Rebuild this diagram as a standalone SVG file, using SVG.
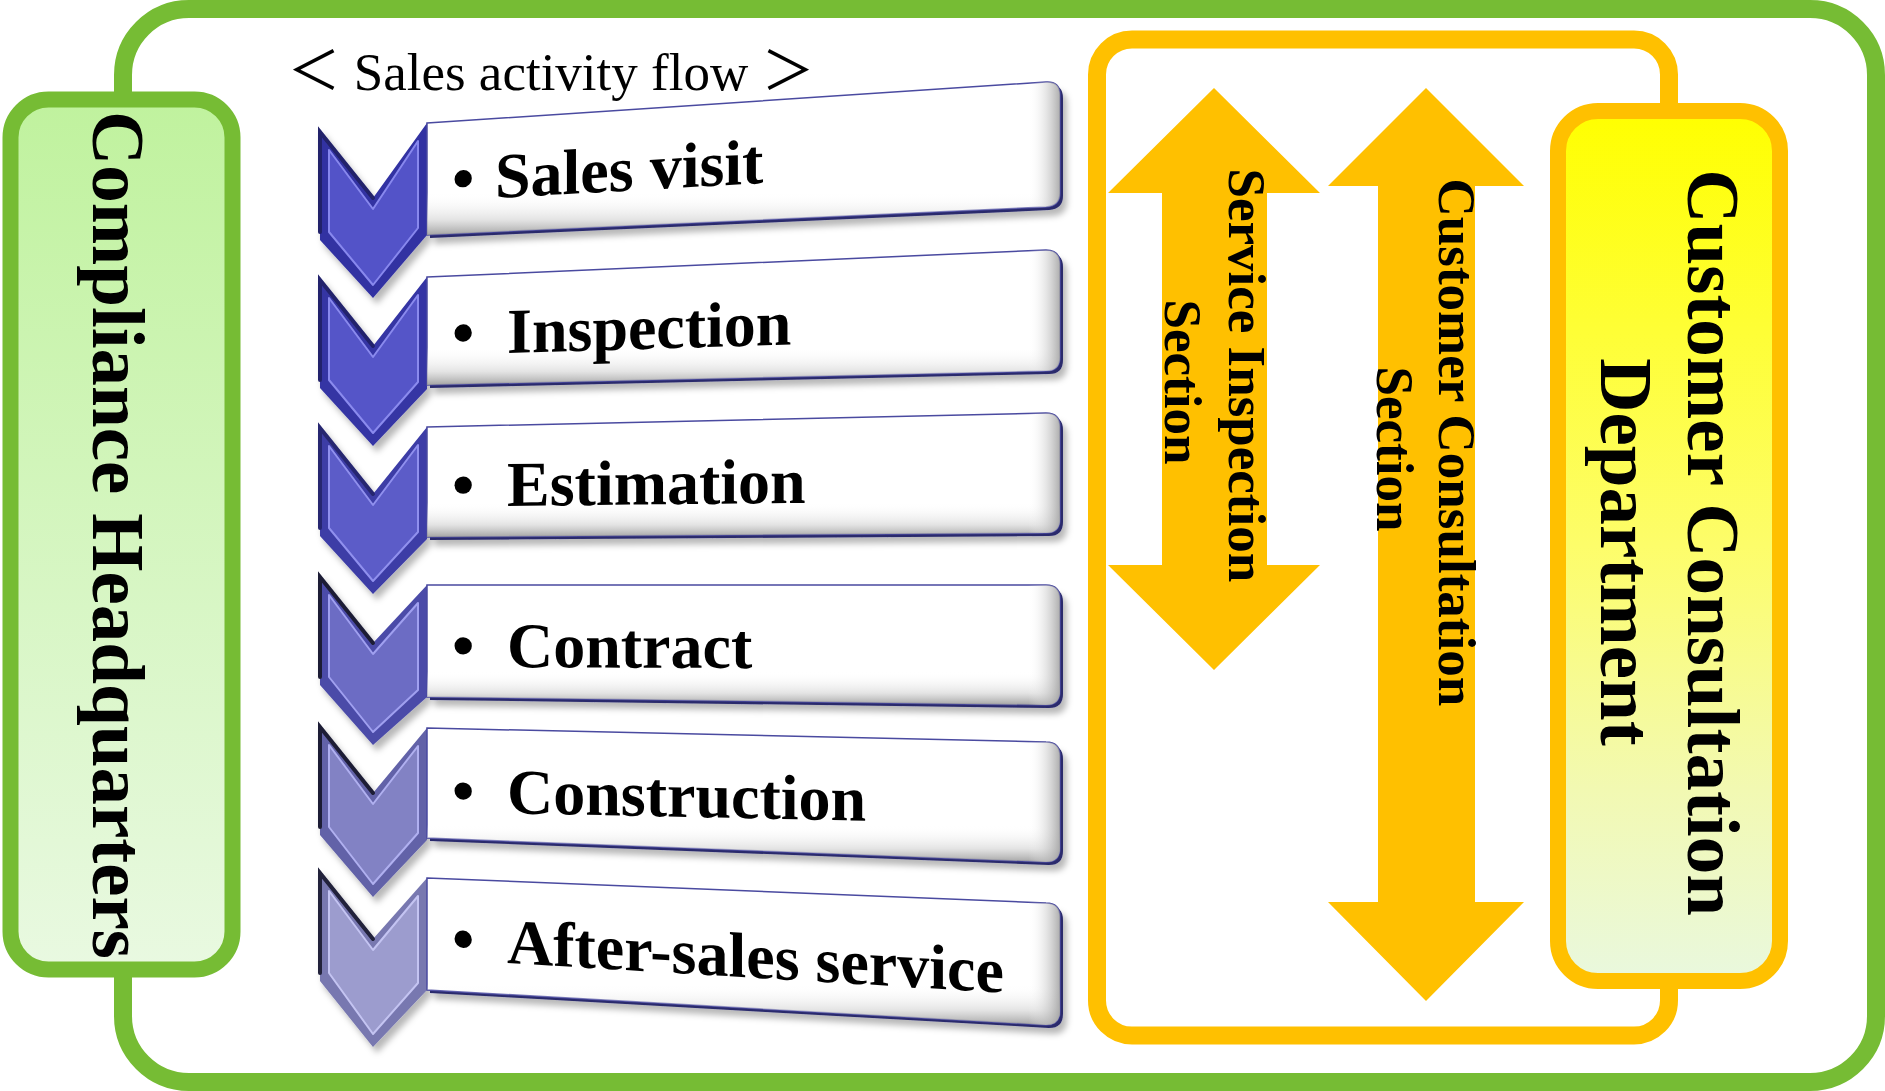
<svg xmlns="http://www.w3.org/2000/svg" width="1885" height="1091" viewBox="0 0 1885 1091">
  <style>
    .frame-green { fill: #ffffff; stroke: #76bc34; stroke-width: 18; }
    .frame-orange { fill: #ffffff; stroke: #ffc000; stroke-width: 18; }
    .dept-green { fill: url(#gradGreen); stroke: #76bc34; stroke-width: 16; }
    .dept-yellow { fill: url(#gradYellow); stroke: #ffc000; stroke-width: 16; }
    .arrow { fill: #ffc000; }
    .bold { font-family: "Liberation Serif", "Times New Roman", serif; font-weight: bold; fill: #000; }
    .dept-label { font-size: 75px; }
    .section-label { font-size: 53px; }
    .step-label { font-size: 64px; }
    .title { font-family: "Liberation Serif", "Noto Sans CJK JP", serif; font-size: 53px; fill: #000; }
    .box-side { fill: #2a2a6c; }
    .box-face { fill: #ffffff; stroke: #4a4aa0; stroke-width: 1.5; }
    .box-shade { fill: url(#gradShadeV); }
    .box-shade-r { fill: url(#gradShadeH); }
    .chev-edge { fill: none; stroke-width: 4; stroke-linecap: round; }
    .chev-inner { stroke-width: 2; stroke-linejoin: round; }
  </style>
  <defs>
    <linearGradient id="gradGreen" x1="0" y1="0" x2="0" y2="1">
      <stop offset="0" stop-color="#c0f29e"/>
      <stop offset="1" stop-color="#e9f9e1"/>
    </linearGradient>
    <linearGradient id="gradYellow" x1="0" y1="0" x2="0" y2="1">
      <stop offset="0" stop-color="#ffff00"/>
      <stop offset="0.5" stop-color="#fdfd6a"/>
      <stop offset="0.78" stop-color="#f2f9b2"/>
      <stop offset="1" stop-color="#e9f8de"/>
    </linearGradient>
    <linearGradient id="gradShadeV" x1="0" y1="0" x2="0" y2="1">
      <stop offset="0" stop-color="#ffffff" stop-opacity="0"/>
      <stop offset="0.72" stop-color="#ffffff" stop-opacity="0"/>
      <stop offset="0.9" stop-color="#d8d8d8" stop-opacity="0.7"/>
      <stop offset="1" stop-color="#9a9a9a" stop-opacity="0.9"/>
    </linearGradient>
    <linearGradient id="gradShadeH" x1="0" y1="0" x2="1" y2="0">
      <stop offset="0" stop-color="#ffffff" stop-opacity="0"/>
      <stop offset="0.95" stop-color="#ffffff" stop-opacity="0"/>
      <stop offset="1" stop-color="#a0a0a0" stop-opacity="0.85"/>
    </linearGradient>
    <filter id="softShadow" x="-10%" y="-10%" width="130%" height="140%">
      <feDropShadow dx="4" dy="6" stdDeviation="3" flood-color="#000000" flood-opacity="0.28"/>
    </filter>
  </defs>

  <!-- outer company frame -->
  <g id="frame-company">
    <rect class="frame-green" x="123" y="9" width="1753" height="1073" rx="66"/>
  </g>

  <!-- consultation department frame -->
  <g id="frame-consultation">
    <rect class="frame-orange" x="1097" y="39.5" width="572" height="996" rx="35"/>
  </g>

  <!-- left department -->
  <g id="compliance-hq">
    <rect class="dept-green" x="10.5" y="99.5" width="222" height="870" rx="38"/>
    <text class="bold dept-label" transform="translate(93,535) rotate(90)" text-anchor="middle">Compliance Headquarters</text>
  </g>

  <!-- right department -->
  <g id="customer-consultation-dept">
    <rect class="dept-yellow" x="1558" y="111" width="222" height="870" rx="40"/>
    <text class="bold dept-label" transform="translate(1688,552) rotate(90)" text-anchor="middle">
      <tspan x="0" y="0">Customer Consultation</tspan>
      <tspan x="0" y="87">Department</tspan>
    </text>
  </g>

  <!-- section arrows -->
  <g id="service-inspection-section">
    <polygon class="arrow" points="1214,88 1320,193 1267,193 1267,565 1320,565 1214,670 1108,565 1162,565 1162,193 1108,193"/>
    <text class="bold section-label" transform="translate(1229,382) rotate(90)" text-anchor="middle">
      <tspan x="0" y="0">Service Inspection</tspan>
      <tspan x="0" y="64">Section</tspan>
    </text>
  </g>
  <g id="customer-consultation-section">
    <polygon class="arrow" points="1426,88 1524,186 1475,186 1475,902 1524,902 1426,1001 1328,902 1378,902 1378,186 1328,186"/>
    <text class="bold section-label" transform="translate(1439,449) rotate(90)" text-anchor="middle">
      <tspan x="0" y="0">Customer Consultation</tspan>
      <tspan x="0" y="62">Section</tspan>
    </text>
  </g>

  <!-- sales activity flow -->
  <g id="flow-title">
    <text class="title" x="551" y="90" text-anchor="middle">＜ Sales activity flow ＞</text>
  </g>

  <g id="step-sales-visit">
    <g filter="url(#softShadow)">
      <polygon fill="#3232a2" points="320,132 373,198 427,123 427,235 373,298 320,240"/>
      <polygon class="chev-inner" fill="#5252c8" stroke="#8888ee" points="329,150 373,209 418,141 418,228 373,285 329,232"/>
      <polyline class="chev-edge" stroke="#22226a" points="320,232 320,132 373,198"/>
      <path class="box-side" d="M430,126 L1049,85 Q1063,84 1063,98 L1063,196 Q1063,209 1049,210 L430,238 Z"/>
    </g>
    <path class="box-face" d="M427,123 L1046,82 Q1060,81 1060,95 L1060,193 Q1060,206 1046,207 L427,235 Z"/>
    <path class="box-shade" d="M427,123 L1046,82 Q1060,81 1060,95 L1060,193 Q1060,206 1046,207 L427,235 Z"/>
    <path class="box-shade-r" d="M427,123 L1046,82 Q1060,81 1060,95 L1060,193 Q1060,206 1046,207 L427,235 Z"/>
    <g transform="translate(452,200.4) skewY(-3.2)">
      <text class="bold step-label"><tspan x="0">•</tspan><tspan x="43">Sales visit</tspan></text>
    </g>
  </g>

  <g id="step-inspection">
    <g filter="url(#softShadow)">
      <polygon fill="#3535a4" points="320,280 373,346 427,277 427,389 373,446 320,388"/>
      <polygon class="chev-inner" fill="#5555c8" stroke="#8a8aee" points="329,298 373,357 418,295 418,382 373,433 329,380"/>
      <polyline class="chev-edge" stroke="#24246c" points="320,380 320,280 373,346"/>
      <path class="box-side" d="M430,280 L1049,253 Q1063,253 1063,267 L1063,360 Q1063,374 1049,374 L430,388 Z"/>
    </g>
    <path class="box-face" d="M427,277 L1046,250 Q1060,250 1060,264 L1060,357 Q1060,371 1046,371 L427,385 Z"/>
    <path class="box-shade" d="M427,277 L1046,250 Q1060,250 1060,264 L1060,357 Q1060,371 1046,371 L427,385 Z"/>
    <path class="box-shade-r" d="M427,277 L1046,250 Q1060,250 1060,264 L1060,357 Q1060,371 1046,371 L427,385 Z"/>
    <g transform="translate(452,354.6) skewY(-1.7)">
      <text class="bold step-label"><tspan x="0">•</tspan><tspan x="55">Inspection</tspan></text>
    </g>
  </g>

  <g id="step-estimation">
    <g filter="url(#softShadow)">
      <polygon fill="#3c3ca6" points="320,428 373,494 427,427 427,539 373,594 320,536"/>
      <polygon class="chev-inner" fill="#5b5bc8" stroke="#9090ee" points="329,446 373,505 418,445 418,532 373,581 329,528"/>
      <polyline class="chev-edge" stroke="#282870" points="320,528 320,428 373,494"/>
      <path class="box-side" d="M430,430 L1049,416 Q1063,416 1063,430 L1063,522 Q1063,536 1049,536 L430,540 Z"/>
    </g>
    <path class="box-face" d="M427,427 L1046,413 Q1060,413 1060,427 L1060,519 Q1060,533 1046,533 L427,537 Z"/>
    <path class="box-shade" d="M427,427 L1046,413 Q1060,413 1060,427 L1060,519 Q1060,533 1046,533 L427,537 Z"/>
    <path class="box-shade-r" d="M427,427 L1046,413 Q1060,413 1060,427 L1060,519 Q1060,533 1046,533 L427,537 Z"/>
    <g transform="translate(452,506.5) skewY(-0.6)">
      <text class="bold step-label"><tspan x="0">•</tspan><tspan x="55">Estimation</tspan></text>
    </g>
  </g>

  <g id="step-contract">
    <g filter="url(#softShadow)">
      <polygon fill="#4c4ca8" points="320,577 373,643 427,585 427,697 373,745 320,685"/>
      <polygon class="chev-inner" fill="#6c6cc4" stroke="#a0a0f0" points="329,595 373,654 418,603 418,690 373,732 329,677"/>
      <polyline class="chev-edge" stroke="#1e1e36" points="320,677 320,577 373,643"/>
      <path class="box-side" d="M430,588 L1049,588 Q1063,588 1063,602 L1063,694 Q1063,708 1049,708 L430,700 Z"/>
    </g>
    <path class="box-face" d="M427,585 L1046,585 Q1060,585 1060,599 L1060,691 Q1060,705 1046,705 L427,697 Z"/>
    <path class="box-shade" d="M427,585 L1046,585 Q1060,585 1060,599 L1060,691 Q1060,705 1046,705 L427,697 Z"/>
    <path class="box-shade-r" d="M427,585 L1046,585 Q1060,585 1060,599 L1060,691 Q1060,705 1046,705 L427,697 Z"/>
    <g transform="translate(452,667) skewY(0.2)">
      <text class="bold step-label"><tspan x="0">•</tspan><tspan x="55">Contract</tspan></text>
    </g>
  </g>

  <g id="step-construction">
    <g filter="url(#softShadow)">
      <polygon fill="#6262a8" points="320,727 373,793 427,728 427,840 373,897 320,835"/>
      <polygon class="chev-inner" fill="#8282c4" stroke="#b0b0f0" points="329,745 373,804 418,746 418,833 373,884 329,827"/>
      <polyline class="chev-edge" stroke="#1e1e34" points="320,827 320,727 373,793"/>
      <path class="box-side" d="M430,731 L1049,745 Q1063,745 1063,759 L1063,851 Q1063,865 1049,865 L430,841 Z"/>
    </g>
    <path class="box-face" d="M427,728 L1046,742 Q1060,742 1060,756 L1060,848 Q1060,862 1046,862 L427,838 Z"/>
    <path class="box-shade" d="M427,728 L1046,742 Q1060,742 1060,756 L1060,848 Q1060,862 1046,862 L427,838 Z"/>
    <path class="box-shade-r" d="M427,728 L1046,742 Q1060,742 1060,756 L1060,848 Q1060,862 1046,862 L427,838 Z"/>
    <g transform="translate(452,812) skewY(1.2)">
      <text class="bold step-label"><tspan x="0">•</tspan><tspan x="55">Construction</tspan></text>
    </g>
  </g>

  <g id="step-after-sales">
    <g filter="url(#softShadow)">
      <polygon fill="#7878b0" points="320,873 373,939 427,878 427,990 373,1047 320,981"/>
      <polygon class="chev-inner" fill="#9c9cce" stroke="#c4c4f2" points="329,891 373,950 418,896 418,983 373,1034 329,973"/>
      <polyline class="chev-edge" stroke="#20203a" points="320,973 320,873 373,939"/>
      <path class="box-side" d="M430,881 L1049,906 Q1063,906 1063,920 L1063,1014 Q1063,1028 1049,1028 L430,993 Z"/>
    </g>
    <path class="box-face" d="M427,878 L1046,903 Q1060,903 1060,917 L1060,1011 Q1060,1025 1046,1025 L427,990 Z"/>
    <path class="box-shade" d="M427,878 L1046,903 Q1060,903 1060,917 L1060,1011 Q1060,1025 1046,1025 L427,990 Z"/>
    <path class="box-shade-r" d="M427,878 L1046,903 Q1060,903 1060,917 L1060,1011 Q1060,1025 1046,1025 L427,990 Z"/>
    <g transform="translate(452,959.8) skewY(3.4)">
      <text class="bold step-label"><tspan x="0">•</tspan><tspan x="55">After-sales service</tspan></text>
    </g>
  </g>

  <!-- no connectors besides the arrows drawn with their sections -->
  <g id="connectors"/>
</svg>
